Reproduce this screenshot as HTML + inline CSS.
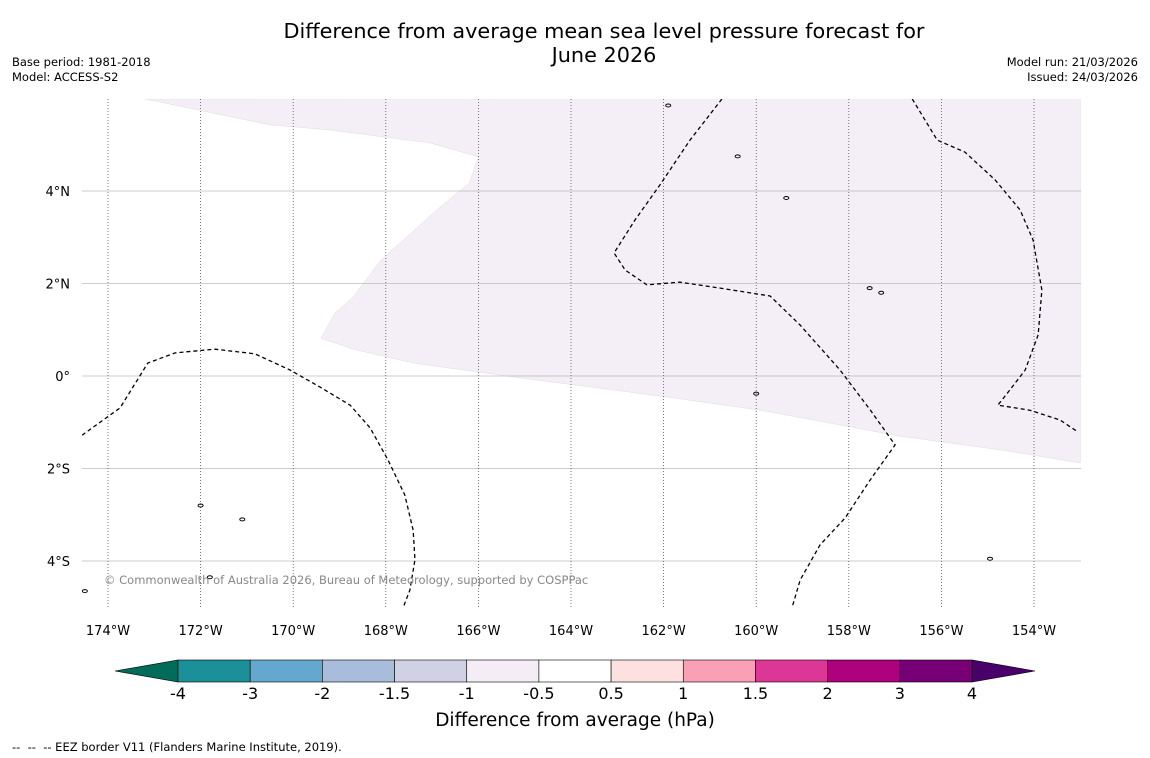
<!DOCTYPE html>
<html><head><meta charset="utf-8"><style>
body{margin:0;background:#fff;font-family:"Liberation Sans","DejaVu Sans",sans-serif}
#wrap{position:relative;width:1150px;height:758px;overflow:hidden}
.t{position:absolute;font-size:11.5px;color:#000}
</style></head><body>
<div id="wrap">
<div class="t" style="left:0;width:1208px;top:19px;text-align:center;font-size:20.8px;line-height:24px;font-family:'DejaVu Sans',sans-serif">Difference from average mean sea level pressure forecast for<br>June 2026</div>
<div class="t" style="left:12px;top:55px;line-height:15px;font-family:'DejaVu Sans',sans-serif">Base period: 1981-2018<br>Model: ACCESS-S2</div>
<div class="t" style="right:12px;top:55px;text-align:right;line-height:15px;font-family:'DejaVu Sans',sans-serif">Model run: 21/03/2026<br>Issued: 24/03/2026</div>
<div class="t" style="left:12px;top:740px;font-size:11.5px;font-family:'DejaVu Sans',sans-serif">--&nbsp; --&nbsp; -- EEZ border V11 (Flanders Marine Institute, 2019).</div>
<svg id="svg" width="1150" height="758" style="position:absolute;left:0;top:0" font-family="DejaVu Sans, sans-serif"></svg>
</div>
<script>
const latTicks=[4,2,0,-2,-4];
const latLabels=["4°N","2°N","0°","2°S","4°S"];
const lonTicks=[-174,-172,-170,-168,-166,-164,-162,-160,-158,-156,-154];
const lonLabels=["174°W","172°W","170°W","168°W","166°W","164°W","162°W","160°W","158°W","156°W","154°W"];
const anomalyLon=[-173.2,-170.5,-169.2,-167.05,-166.0,-166.2,-166.9,-168.1,-168.7,-169.1,-169.4,-168.7,-167.4,-165.1,-162.1,-159.9,-156.9,-154.7,-153.0,-153.0];
const anomalyLat=[5.99,5.43,5.32,5.04,4.74,4.17,3.59,2.51,1.71,1.36,0.82,0.58,0.28,-0.04,-0.43,-0.74,-1.30,-1.60,-1.88,6.0];
const eez1Lon=[-174.56,-173.74,-173.14,-172.55,-171.69,-170.83,-170.07,-169.42,-168.77,-168.34,-167.95,-167.59,-167.41,-167.37,-167.48,-167.63];
const eez1Lat=[-1.28,-0.69,0.28,0.50,0.58,0.48,0.13,-0.24,-0.63,-1.12,-1.82,-2.57,-3.33,-3.97,-4.63,-5.02];
const eez2Lon=[-160.74,-161.43,-162.08,-162.62,-163.07,-162.83,-162.36,-161.65,-160.78,-159.70,-159.05,-158.19,-157.54,-157.00,-157.54,-158.08,-158.62,-159.05,-159.23];
const eez2Lat=[5.99,5.10,4.13,3.37,2.66,2.29,1.97,2.03,1.90,1.73,1.10,0.13,-0.73,-1.49,-2.25,-3.07,-3.65,-4.41,-5.02];
const eez3Lon=[-156.63,-156.09,-155.49,-154.84,-154.30,-154.02,-153.83,-153.91,-154.19,-154.52,-154.78,-154.09,-153.44,-153.05];
const eez3Lat=[5.99,5.10,4.84,4.24,3.59,2.94,1.86,0.89,0.13,-0.30,-0.63,-0.74,-0.95,-1.21];
const islandLon=[-161.9,-160.4,-159.35,-157.55,-157.3,-172.0,-171.1,-171.8,-154.95,-174.5,-160.0];
const islandLat=[5.85,4.75,3.85,1.9,1.8,-2.8,-3.1,-4.35,-3.95,-4.65,-0.38];
const cbLabels=["-4","-3","-2","-1.5","-1","-0.5","0.5","1","1.5","2","3","4"];
const cbColors=["#1b9098","#65a8cf","#a8bddc","#d1d1e6","#f4edf6","#ffffff","#fde0e0","#f9a0b6","#dc3697","#ad017e","#780077"];
const NS="http://www.w3.org/2000/svg";
const svg=document.getElementById('svg');
const X0=82,X1=1081,Y0=99,Y1=608;
const x=lon=>108+(lon+174)*46.3;
const y=lat=>376-lat*46.25;
function mk(tag,at,parent){const e=document.createElementNS(NS,tag);for(const k in at)e.setAttribute(k,at[k]);(parent||svg).appendChild(e);return e;}
const defs=mk('defs',{});const cp=mk('clipPath',{id:'clip'},defs);mk('rect',{x:X0,y:Y0,width:X1-X0,height:Y1-Y0},cp);
const g=mk('g',{'clip-path':'url(#clip)'});
let pts=anomalyLon.map((l,i)=>x(l)+','+y(anomalyLat[i])).join(' ');
const poly=mk('polygon',{points:pts,fill:'#f4eef6',stroke:'#ddd',"stroke-width":0.5},g);


latTicks.forEach((t,i)=>{
 const l=mk('line',{x1:X0,x2:X1,y1:y(t),y2:y(t),stroke:'#bbb','stroke-width':0.8},g);
 
 
 const tx=mk('text',{x:70,y:y(t)+5,'text-anchor':'end','font-size':13});tx.textContent=latLabels[i];
 
 
});
lonTicks.forEach((t,i)=>{
 const l=mk('line',{x1:x(t),x2:x(t),y1:Y0,y2:Y1,stroke:'#555','stroke-width':0.8,'stroke-dasharray':'1,2'},g);
 
 
 const tx=mk('text',{x:x(t),y:635,'text-anchor':'middle','font-size':13});tx.textContent=lonLabels[i];
 
 
});
[[eez1Lon,eez1Lat],[eez2Lon,eez2Lat],[eez3Lon,eez3Lat]].forEach(([lo,la],k)=>{
 const p=mk('polyline',{points:lo.map((l,i)=>x(l)+','+y(la[i])).join(' '),fill:'none',stroke:'#000','stroke-width':1.3,'stroke-dasharray':'4,3'},g);
 
 
});
islandLon.forEach((l,i)=>{
 const e=mk('ellipse',{cx:x(l),cy:y(islandLat[i]),rx:2.5,ry:1.5,fill:'none',stroke:'#000','stroke-width':1},g);
 
 
});
const cr=mk('text',{x:104,y:584,'font-size':11.5,fill:'#888'});cr.textContent='© Commonwealth of Australia 2026, Bureau of Meteorology, supported by COSPPac';


const cx0=178,cx1=972,cy0=660,cy1=682,bw=(cx1-cx0)/cbColors.length;
const lt=mk('polygon',{points:`115,671 ${cx0},${cy0} ${cx0},${cy1}`,fill:'#016c59',stroke:'#000','stroke-width':0.6});


const rt=mk('polygon',{points:`1035,671 ${cx1},${cy0} ${cx1},${cy1}`,fill:'#49006a',stroke:'#000','stroke-width':0.6});


cbColors.forEach((c,i)=>{
 const r=mk('rect',{x:cx0+i*bw,y:cy0,width:bw,height:cy1-cy0,fill:c,stroke:'#000','stroke-width':0.6});
 
 
});
cbLabels.forEach((s,i)=>{
 const tx=mk('text',{x:cx0+i*bw,y:699,'text-anchor':'middle','font-size':16});tx.textContent=s;
 
 
});
const ct=mk('text',{x:575,y:726,'text-anchor':'middle','font-size':18.5});ct.textContent='Difference from average (hPa)';


</script>
</body></html>
